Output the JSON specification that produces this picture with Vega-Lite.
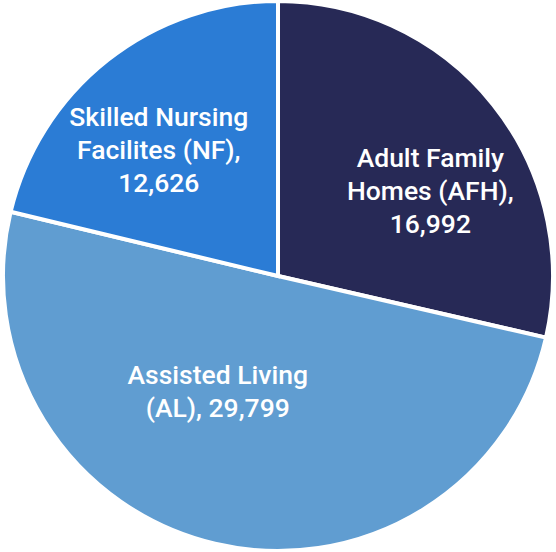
{
  "$schema": "https://vega.github.io/schema/vega-lite/v6.json",
  "width": 556,
  "height": 552,
  "autosize": {"type": "fit", "contains": "padding"},
  "padding": 0,
  "background": "white",
  "view": {"stroke": null},
  "data": {
    "values": [
      {"category": "Adult Family Homes (AFH)", "label": "Adult Family\nHomes (AFH),\n16,992", "value": 16992, "order": 1},
      {"category": "Assisted Living (AL)", "label": "Assisted Living\n(AL),  29,799", "value": 29799, "order": 2},
      {"category": "Skilled Nursing Facilites (NF)", "label": "Skilled Nursing\nFacilites (NF),\n12,626", "value": 12626, "order": 3}
    ]
  },
  "encoding": {
    "theta": {"field": "value", "type": "quantitative", "stack": true},
    "order": {"field": "order", "type": "quantitative"}
  },
  "layer": [
    {
      "mark": {"type": "arc", "outerRadius": 275, "stroke": "white", "strokeWidth": 4},
      "encoding": {
        "color": {
          "field": "category",
          "type": "nominal",
          "scale": {
            "domain": ["Adult Family Homes (AFH)", "Assisted Living (AL)", "Skilled Nursing Facilites (NF)"],
            "range": ["#272956", "#609DD1", "#2B7CD5"]
          },
          "legend": null
        }
      }
    },
    {
      "mark": {"type": "text", "radius": 174, "thetaOffset": 0.168, "dy": -33, "font": "Roboto", "fontWeight": 500, "fontSize": 26.5, "fill": "white", "lineBreak": "\n", "lineHeight": 33, "align": "center", "baseline": "middle"},
      "encoding": {
        "text": {"condition": {"test": "datum.order == 1", "field": "label"}, "value": ""}
      }
    },
    {
      "mark": {"type": "text", "radius": 131, "thetaOffset": 0.247, "dy": -16, "font": "Roboto", "fontWeight": 500, "fontSize": 26.5, "fill": "white", "lineBreak": "\n", "lineHeight": 33, "align": "center", "baseline": "middle"},
      "encoding": {
        "text": {"condition": {"test": "datum.order == 2", "field": "label"}, "value": ""}
      }
    },
    {
      "mark": {"type": "text", "radius": 173, "thetaOffset": -0.093, "dy": -33, "font": "Roboto", "fontWeight": 500, "fontSize": 26.5, "fill": "white", "lineBreak": "\n", "lineHeight": 33, "align": "center", "baseline": "middle"},
      "encoding": {
        "text": {"condition": {"test": "datum.order == 3", "field": "label"}, "value": ""}
      }
    }
  ]
}
